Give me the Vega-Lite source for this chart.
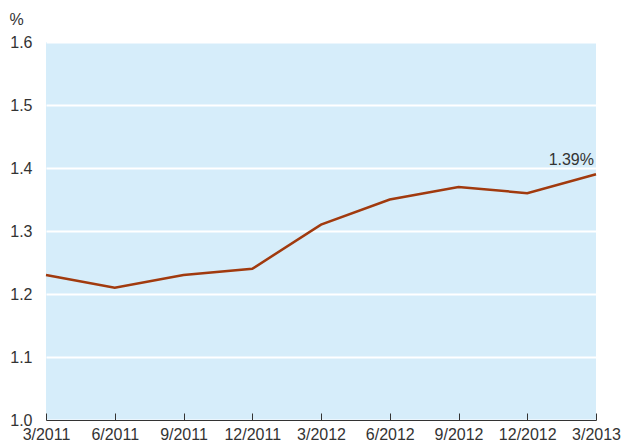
{
  "$schema": "https://vega.github.io/schema/vega-lite/v6.json",
  "width": 550,
  "height": 378,
  "autosize": "none",
  "padding": {"left": 46, "top": 42, "right": 25, "bottom": 28},
  "background": "white",
  "config": {
    "view": {"fill": "#d6edfa", "stroke": null},
    "font": "Liberation Sans",
    "axis": {"labelFont": "Liberation Sans", "titleFont": "Liberation Sans", "labelColor": "#333333", "titleColor": "#333333"}
  },
  "data": {
    "values": [
      {"q": "3/2011", "v": 1.23, "label": ""},
      {"q": "6/2011", "v": 1.21, "label": ""},
      {"q": "9/2011", "v": 1.23, "label": ""},
      {"q": "12/2011", "v": 1.24, "label": ""},
      {"q": "3/2012", "v": 1.31, "label": ""},
      {"q": "6/2012", "v": 1.35, "label": ""},
      {"q": "9/2012", "v": 1.37, "label": ""},
      {"q": "12/2012", "v": 1.36, "label": ""},
      {"q": "3/2013", "v": 1.39, "label": "1.39%"}
    ]
  },
  "encoding": {
    "x": {
      "field": "q", "type": "ordinal", "sort": null,
      "scale": {"type": "point", "padding": 0},
      "axis": {
        "title": null, "labelAngle": 0, "labelFontSize": 16, "labelPadding": 13,
        "domainColor": "#333333", "domainWidth": 1, "tickColor": "#333333",
        "tickSize": -7, "tickWidth": 1, "grid": false, "labelFlush": false, "labelOverlap": false
      }
    },
    "y": {
      "field": "v", "type": "quantitative",
      "scale": {"domain": [1.0, 1.6], "nice": false, "zero": false},
      "axis": {
        "values": [1.0, 1.1, 1.2, 1.3, 1.4, 1.5, 1.6], "format": ".1f",
        "title": "%", "titleAngle": 0, "titleAlign": "left", "titleBaseline": "middle",
        "titleX": -37, "titleY": -23, "titleFontSize": 16, "titleFontWeight": "normal",
        "labelFontSize": 16, "labelPadding": 14, "domain": false, "ticks": false,
        "grid": true, "gridColor": "white", "gridWidth": 2
      }
    }
  },
  "layer": [
    {"mark": {"type": "line", "color": "#a13a0e", "strokeWidth": 2.5}},
    {
      "transform": [{"filter": "datum.label != ''"}],
      "mark": {"type": "text", "align": "right", "baseline": "bottom", "dy": -6, "dx": -2, "fontSize": 16, "color": "#333333"},
      "encoding": {"text": {"field": "label", "type": "nominal"}}
    }
  ]
}
